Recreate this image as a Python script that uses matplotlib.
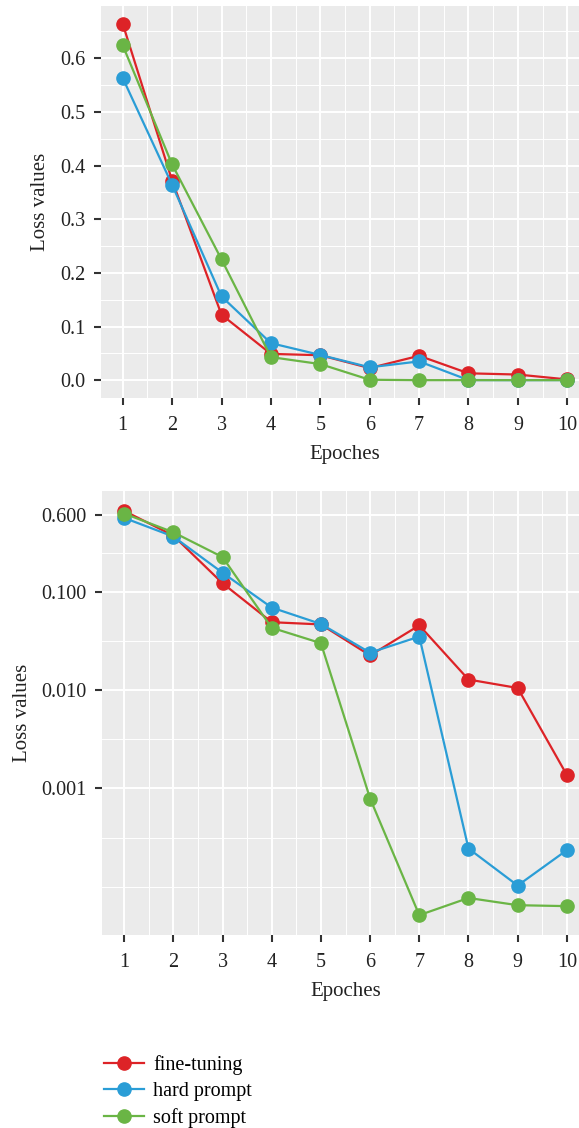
import numpy as np
import matplotlib.pyplot as plt
from matplotlib.ticker import FixedLocator, NullFormatter

#%% Daten

Epochen = np.arange(1, 11)

fine_tuning = [0.664, 0.372, 0.122, 0.049, 0.0465, 0.0225, 0.0455, 0.0128, 0.0105, 0.00137]
hard_prompt = [0.563, 0.364, 0.156, 0.069, 0.047, 0.024, 0.035, 0.000245, 0.000103, 0.000236]
soft_prompt = [0.624, 0.402, 0.225, 0.043, 0.030, 0.00079, 0.0000515, 0.000077, 0.000065, 0.0000636]

namen = ['fine-tuning', 'hard prompt', 'soft prompt']
farben = ['#DD2327', '#2A9DD6', '#6AB545']

lin_ticks = [0.0, 0.1, 0.2, 0.3, 0.4, 0.5, 0.6]
log_ticks = [0.6, 0.1, 0.01, 0.001]
log_labels = ['0.600', '0.100', '0.010', '0.001']

#%% Stil

plt.rcParams['font.family'] = ['Liberation Serif', 'DejaVu Serif']
plt.rcParams['font.size'] = 14.5

def ggstil(ax):
    ax.set_facecolor('#EBEBEB')
    for s in ax.spines.values():
        s.set_visible(False)
    ax.grid(which='major', color='white', linewidth=1.4)
    ax.grid(which='minor', color='white', linewidth=0.7)
    ax.set_axisbelow(True)
    ax.tick_params(which='major', length=5, width=1.5, color='#333333', labelcolor='#222222', pad=6)
    ax.tick_params(axis='x', which='major', pad=8)
    ax.tick_params(which='minor', length=0)
    ax.set_xlim(0.55, 10.45)
    ax.set_xticks(Epochen)
    ax.set_xticks(np.arange(1.5, 10, 1), minor=True)
    ax.set_xlabel('Epoches', fontsize=15, color='#222222', labelpad=7)
    ax.set_ylabel('Loss values', fontsize=15, color='#222222', labelpad=7)

fig = plt.figure(figsize=(5.79, 11.28), dpi=100)

#%% Oben: linear

ax1 = fig.add_axes([100.5/579, 1-398/1128, 489/579, 392/1128])
ggstil(ax1)
for werte, name, farbe in zip([fine_tuning, hard_prompt, soft_prompt], namen, farben):
    ax1.plot(Epochen, werte, color=farbe, linewidth=1.6, marker='o', markersize=9.5, label=name)
ax1.set_ylim(-0.0332, 0.6972)
ax1.set_yticks(lin_ticks)
ax1.set_yticklabels([f'{t:.1f}' for t in lin_ticks])
ax1.yaxis.set_minor_locator(FixedLocator(np.arange(0.05, 0.7, 0.1)))

#%% Unten: logarithmisch

ax2 = fig.add_axes([102/579, 1-935/1128, 487/579, 444.3/1128])
ggstil(ax2)
for werte, name, farbe in zip([fine_tuning, hard_prompt, soft_prompt], namen, farben):
    ax2.plot(Epochen, werte, color=farbe, linewidth=1.6, marker='o', markersize=9.5, label=name)
ax2.set_yscale('log')
ax2.set_ylim(10**-4.49, 10**0.027)
ax2.set_yticks(log_ticks)
ax2.set_yticklabels(log_labels)
ax2.yaxis.set_minor_locator(FixedLocator(10**np.array([-4, -3.5, -2.5, -1.5, (-1 + np.log10(0.6))/2])))
ax2.yaxis.set_minor_formatter(NullFormatter())

#%% Legende

h, l = ax2.get_legend_handles_labels()
fig.legend(h, l, loc='upper left', bbox_to_anchor=(96/579, 1-1047/1128), frameon=False,
           handlelength=2.0, handletextpad=0.45, labelspacing=0.35, fontsize=14.5, borderaxespad=0)

plt.savefig('out.png', dpi=100)
